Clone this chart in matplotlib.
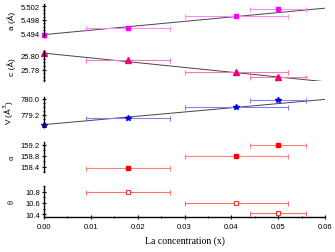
import matplotlib
matplotlib.use("Agg")
import matplotlib.pyplot as plt
from matplotlib.ticker import MultipleLocator, FixedLocator, FormatStrFormatter

# La concentration (x) and horizontal error bar ends
x_vals = [0.0, 0.018, 0.041, 0.050]
x_lo = [0.0, 0.009, 0.030, 0.044]
x_hi = [0.0, 0.027, 0.052, 0.056]

a_vals = [5.4938, 5.4958, 5.4992, 5.5012]
c_vals = [25.803, 25.794, 25.777, 25.769]
v_vals = [778.70, 779.05, 779.60, 779.95]

# alpha and theta only for the doped samples
xd_vals = [0.018, 0.041, 0.050]
alpha_vals = [158.35, 158.78, 159.19]
theta_vals = [10.80, 10.60, 10.42]

# straight-line fits (endpoints at x=0 and x=0.06)
fit_x = [0.0, 0.06]
a_fit = [5.4938, 5.5014]
c_fit = [25.803, 25.763]
v_fit = [778.72, 779.98]

a_ticks = [5.494, 5.498, 5.502]
c_ticks = [25.78, 25.80]
v_ticks = [779.2, 780.0]
alpha_ticks = [158.4, 158.8, 159.2]
theta_ticks = [10.4, 10.6, 10.8]

W, H = 335, 253
fig = plt.figure(figsize=(W / 100, H / 100), dpi=100)

left = 44 / W
width = (325 - 44) / W

def make_ax(top_px, bot_px):
    return fig.add_axes([left, 1 - bot_px / H, width, (bot_px - top_px) / H])

sans = ['Liberation Sans', 'DejaVu Sans']
serif = ['Liberation Serif', 'DejaVu Serif']

panels = [
    # top, bottom, ylim, major ticks, minor step, fmt, ylabel, label font
    (5, 37, (5.4934, 5.5026), a_ticks, 0.001, '%.3f', 'a (Å)', sans),
    (52, 82, (25.764, 25.806), c_ticks, 0.005, '%.2f', 'c (Å)', sans),
    (98, 128, (778.6, 780.1), v_ticks, 0.2, '%.1f', 'V (Å$^3$)', sans),
    (143, 173, (158.2, 159.3), alpha_ticks, 0.2, '%.1f', 'α', serif),
    (187, 218, (10.35, 10.9), theta_ticks, 0.1, '%.1f', 'θ', serif),
]

axes = []
for top, bot, ylim, maj, mnr, fmt, lab, fam in panels:
    ax = make_ax(top, bot)
    ax.set_xlim(0, 0.06)
    ax.set_ylim(*ylim)
    ax.patch.set_alpha(0)
    for s in ['top', 'right', 'bottom']:
        ax.spines[s].set_visible(False)
    ax.spines['left'].set_linewidth(1.0)
    ax.yaxis.set_major_locator(FixedLocator(maj))
    ax.yaxis.set_minor_locator(MultipleLocator(mnr))
    ax.yaxis.set_major_formatter(FormatStrFormatter(fmt))
    ax.tick_params(axis='y', which='major', direction='inout', length=3, width=0.8,
                   labelsize=5.5, pad=1.5)
    ax.tick_params(axis='y', which='minor', direction='inout', length=2, width=0.6)
    for t in ax.get_yticklabels():
        t.set_family(sans)
    ax.set_ylabel(lab, fontsize=6, family=fam, labelpad=2)
    ax.yaxis.set_label_coords(-0.10, 0.5)
    ax.set_xticks([])
    axes.append(ax)

ax_a, ax_c, ax_v, ax_al, ax_th = axes

def xerr(xs):
    lo = [x - x_lo[x_vals.index(x)] for x in xs]
    hi = [x_hi[x_vals.index(x)] - x for x in xs]
    return [lo, hi]

eb = dict(linestyle='none', elinewidth=0.8, capsize=1.8, capthick=0.8, clip_on=False)

ax_a.plot(fit_x, a_fit, color='#444444', lw=0.7, zorder=1)
ax_a.errorbar(x_vals, a_vals, xerr=xerr(x_vals), fmt='s', color='#ff00ff',
              ecolor='#ff88ff', ms=3.5, **eb)

ax_c.plot(fit_x, c_fit, color='#444444', lw=0.7, zorder=1)
ax_c.errorbar(x_vals, c_vals, xerr=xerr(x_vals), fmt='^', color='#f0007a',
              ecolor='#f57ab8', ms=3.8, **eb)

ax_v.plot(fit_x, v_fit, color='#444444', lw=0.7, zorder=1)
ax_v.errorbar(x_vals, v_vals, xerr=xerr(x_vals), fmt='*', color='#0000ff',
              ecolor='#8080ff', ms=4, **eb)

ax_al.errorbar(xd_vals, alpha_vals, xerr=xerr(xd_vals), fmt='s', color='#ff0000',
               ecolor='#ff8080', ms=3.5, **eb)

ax_th.errorbar(xd_vals, theta_vals, xerr=xerr(xd_vals), fmt='s', color='#ff3030',
               mfc='white', mew=0.8, ecolor='#ff7070', ms=3.5, **eb)

# bottom axis only on the last panel
ax_th.spines['bottom'].set_visible(True)
ax_th.spines['bottom'].set_linewidth(1.0)
ax_th.xaxis.set_major_locator(MultipleLocator(0.01))
ax_th.xaxis.set_minor_locator(MultipleLocator(0.005))
ax_th.xaxis.set_major_formatter(FormatStrFormatter('%.2f'))
ax_th.tick_params(axis='x', which='major', direction='inout', length=3, width=0.8,
                  labelsize=5.5, pad=3)
ax_th.tick_params(axis='x', which='minor', direction='inout', length=2, width=0.6)
for t in ax_th.get_xticklabels():
    t.set_family(sans)
ax_th.set_xlabel('La concentration (x)', fontsize=7, family=serif, labelpad=4)

fig.savefig('out.png', dpi=100)
